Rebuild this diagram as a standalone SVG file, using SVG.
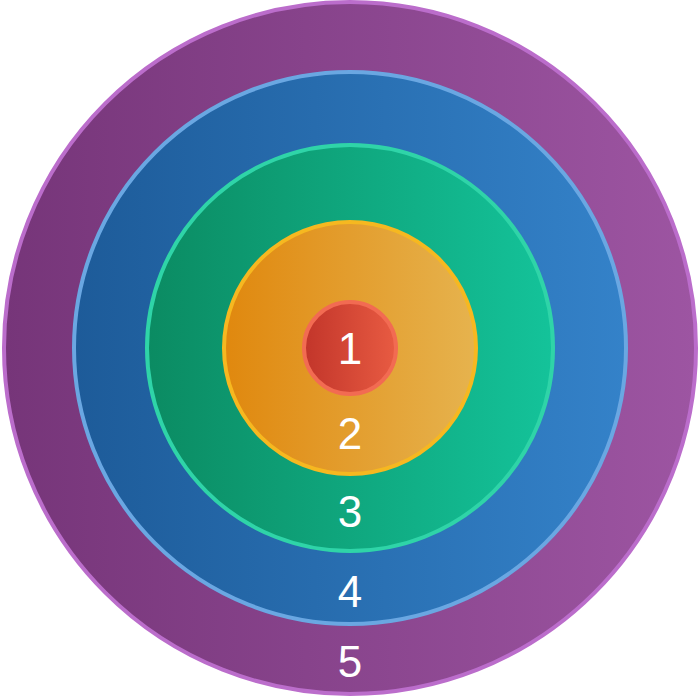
<svg xmlns="http://www.w3.org/2000/svg" width="700" height="700" viewBox="0 0 700 700">
<defs>
<linearGradient id="g5" x1="0" x2="1" y1="0" y2="0"><stop offset="0" stop-color="#763579"/><stop offset="1" stop-color="#9d55a2"/></linearGradient>
<linearGradient id="g4" x1="0" x2="1" y1="0" y2="0"><stop offset="0" stop-color="#1d5b99"/><stop offset="1" stop-color="#3482c9"/></linearGradient>
<linearGradient id="g3" x1="0" x2="1" y1="0" y2="0"><stop offset="0" stop-color="#0b8b62"/><stop offset="1" stop-color="#14c39a"/></linearGradient>
<linearGradient id="g2" x1="0" x2="1" y1="0" y2="0"><stop offset="0" stop-color="#e0880e"/><stop offset="1" stop-color="#e6b34e"/></linearGradient>
<linearGradient id="g1" x1="0" x2="1" y1="0" y2="0"><stop offset="0" stop-color="#c2352a"/><stop offset="1" stop-color="#e85b42"/></linearGradient>
</defs>
<style>
circle{stroke-width:4}
text{font-family:"Liberation Sans",Arial,sans-serif;font-size:44px;fill:#fff;text-anchor:middle}
</style>
<g id="ring5"><circle cx="350" cy="348" r="346" fill="url(#g5)" stroke="#bb6dcb"/><text x="350" y="677">5</text></g>
<g id="ring4"><circle cx="350" cy="348" r="276" fill="url(#g4)" stroke="#6aa7e2"/><text x="350" y="607">4</text></g>
<g id="ring3"><circle cx="350" cy="348" r="203" fill="url(#g3)" stroke="#2fd4a8"/><text x="350" y="527">3</text></g>
<g id="ring2"><circle cx="350" cy="348" r="126" fill="url(#g2)" stroke="#f6b820"/><text x="350" y="449">2</text></g>
<g id="ring1"><circle cx="350" cy="348" r="46" fill="url(#g1)" stroke="#f26b52"/><text x="350" y="364">1</text></g>
</svg>
